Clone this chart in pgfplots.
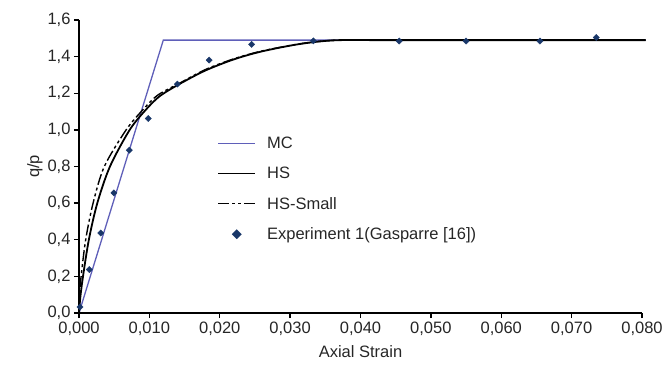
\documentclass[border=0pt]{standalone}
\usepackage{pgfplots}
\pgfplotsset{compat=1.18}
\usepackage{fontspec}
\setmainfont{Liberation Sans}
\definecolor{mcblue}{RGB}{95,95,185}
\definecolor{expblue}{RGB}{25,55,105}
\pgfplotsset{
  longline legend/.style={legend image code/.code={\draw[##1] (0pt,0pt) -- (37pt,0pt);}},
  markonly legend/.style={legend image code/.code={\draw[##1, mark size=3.3pt] plot coordinates {(18.5pt,0pt)};}},
}
\begin{document}
\begin{tikzpicture}[x=1pt,y=1pt]
\useasboundingbox (-79,-57) rectangle (588,313);
\begin{axis}[
  at={(0,0)}, anchor=south west,
  scale only axis, width=563pt, height=293pt,
  xmin=0, xmax=0.08, ymin=0, ymax=1.6,
  axis x line*=bottom, axis y line*=left,
  axis line style={line width=1.6pt, -},
  xtick={0,0.01,...,0.08},
  xticklabels={{0,000},{0,010},{0,020},{0,030},{0,040},{0,050},{0,060},{0,070},{0,080}},
  ytick={0,0.2,...,1.6},
  yticklabels={{0,0},{0,2},{0,4},{0,6},{0,8},{1,0},{1,2},{1,4},{1,6}},
  tick align=outside, major tick length=5pt,
  tick style={line width=1.4pt, black},
  ticklabel style={font=\fontsize{16.5}{19}\selectfont, text=black!85},
  scaled x ticks=false,
  xlabel={Axial Strain}, ylabel={q/p},
  label style={font=\fontsize{16.5}{19}\selectfont, text=black!85},
  xlabel style={yshift=-4pt},
  ylabel style={yshift=-2pt},
  legend cell align=left,
  legend style={draw=none, fill=none, at={(rel axis cs:0.24,0.615)}, anchor=north west,
    font=\fontsize{16.5}{19}\selectfont, text=black!85, row sep=13pt,
    /tikz/every odd column/.append style={column sep=9pt}},
  longline legend,
  clip=false,
]
\addplot[mcblue, line width=1.3pt] coordinates {(0,0) (0.01198,1.49) (0.0805,1.49)};
\addlegendentry{MC}
\addplot[black, line width=1.8pt, smooth] coordinates {
(0,0) (0.0002,0.09) (0.00057,0.2) (0.0014,0.4) (0.0026,0.6) (0.0044,0.8) (0.0072,1.0)
(0.0095,1.11) (0.0115,1.185) (0.01435,1.252) (0.018,1.325) (0.022,1.385) (0.0257,1.426)
(0.030,1.46) (0.0333,1.479) (0.037,1.49) (0.045,1.49) (0.0805,1.49)};
\addlegendentry{HS}
\addplot[black, line width=1.4pt, smooth, dash pattern=on 11pt off 3pt on 3pt off 3pt on 3pt off 3pt] coordinates {
(0,0) (0.0001,0.1) (0.0003,0.2) (0.00095,0.4) (0.002,0.6) (0.0036,0.8) (0.0067,1.0)
(0.0092,1.115) (0.0112,1.19) (0.01435,1.256) (0.018,1.33) (0.022,1.388) (0.0257,1.428)
(0.030,1.461) (0.0333,1.48) (0.037,1.49) (0.045,1.49) (0.0805,1.49)};
\addlegendentry{HS-Small}
\addplot[only marks, mark=square*, mark size=2.2pt, mark options={rotate=45}, color=expblue, markonly legend] coordinates {
(0.00014,0.033) (0.00146,0.237) (0.00308,0.437) (0.00497,0.656) (0.00715,0.889)
(0.00985,1.062) (0.01397,1.250) (0.0185,1.381) (0.02453,1.467) (0.0333,1.486)
(0.0455,1.485) (0.055,1.485) (0.0655,1.485) (0.0735,1.505)};
\addlegendentry{Experiment 1(Gasparre [16])}
\end{axis}
\end{tikzpicture}
\end{document}
